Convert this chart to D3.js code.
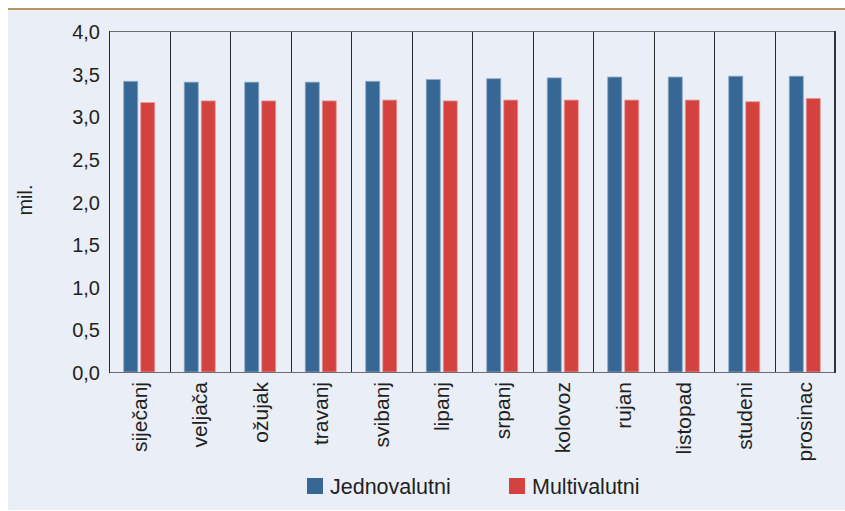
<!DOCTYPE html>
<html>
<head>
<meta charset="utf-8">
<script src="https://cdn.jsdelivr.net/npm/d3@7"></script>
<style>
  body { margin: 0; background: #fff; }
  text { font-family: "Liberation Sans", Arial, sans-serif; fill: #231f20; }
</style>
</head>
<body>
<div id="chart"></div>
<script>
var months = ["siječanj", "veljača", "ožujak", "travanj", "svibanj", "lipanj",
              "srpanj", "kolovoz", "rujan", "listopad", "studeni", "prosinac"];
var jednovalutni = [3.41, 3.40, 3.40, 3.40, 3.41, 3.43, 3.44, 3.45, 3.46, 3.46, 3.47, 3.47];
var multivalutni = [3.16, 3.18, 3.18, 3.18, 3.19, 3.18, 3.19, 3.19, 3.19, 3.19, 3.17, 3.21];
var yTicks = [0, 0.5, 1, 1.5, 2, 2.5, 3, 3.5, 4];
var seriesNames = ["Jednovalutni", "Multivalutni"];
var colors = ["#376795", "#d4423f"];
var edgeColors = ["#8aa8c6", "#e99b98"];

var W = 845, H = 511;
var margin = { top: 31, right: 10, bottom: 139, left: 109 },
    width = 835 - margin.left,
    height = 372 - margin.top;

var svg = d3.select("#chart").append("svg")
    .attr("width", W)
    .attr("height", H);

// background panel and top rule
svg.append("rect").attr("x", 8).attr("y", 9).attr("width", W - 8).attr("height", 501).attr("fill", "#e9eef7");
svg.append("rect").attr("x", 8).attr("y", 8).attr("width", W - 8).attr("height", 2).attr("fill", "#b5965e");

var g = svg.append("g").attr("transform", "translate(" + margin.left + "," + margin.top + ")");

var x = d3.scaleBand().domain(months).range([0, width]);
var y = d3.scaleLinear().domain([0, 4]).range([height, 0]);

// month separators
g.selectAll("line.sep")
    .data(months.slice(1))
    .enter().append("line")
    .attr("class", "sep")
    .attr("x1", function(d) { return Math.round(x(d)) + 0.5; })
    .attr("x2", function(d) { return Math.round(x(d)) + 0.5; })
    .attr("y1", 0)
    .attr("y2", height)
    .attr("stroke", "#2a2a2a")
    .attr("stroke-width", 1);

// bars
var barW = 14, gap = 3;
var offset = (x.bandwidth() - 2 * barW - gap) / 2;
[jednovalutni, multivalutni].forEach(function(vals, s) {
    g.selectAll("rect.s" + s)
        .data(vals)
        .enter().append("rect")
        .attr("class", "s" + s)
        .attr("x", function(d, i) { return x(months[i]) + offset + s * (barW + gap); })
        .attr("y", function(d) { return y(d); })
        .attr("width", barW)
        .attr("height", function(d) { return height - y(d); })
        .attr("fill", colors[s])
        .attr("stroke", edgeColors[s])
        .attr("stroke-width", 0.8);
});

// frame
g.append("line").attr("x1", 0).attr("x2", width).attr("y1", 0.5).attr("y2", 0.5).attr("stroke", "#6d6d6d");
g.append("line").attr("x1", 0).attr("x2", width).attr("y1", height + 0.5).attr("y2", height + 0.5).attr("stroke", "#6d6d6d");
g.append("line").attr("x1", 0.5).attr("x2", 0.5).attr("y1", 0).attr("y2", height + 1).attr("stroke", "#2a2a2a");
g.append("line").attr("x1", width).attr("x2", width).attr("y1", 0).attr("y2", height + 1).attr("stroke", "#333").attr("stroke-width", 2);

// y axis
var yAxis = d3.axisLeft(y)
    .tickValues(yTicks)
    .tickSize(0)
    .tickPadding(9)
    .tickFormat(function(d) { return d3.format(".1f")(d).replace(".", ","); });
g.append("g").call(yAxis)
    .call(function(a) { a.select(".domain").remove(); })
    .selectAll("text")
    .attr("font-size", 20)
    .attr("font-family", "Liberation Sans, Arial, sans-serif")
    .attr("fill", "#231f20")
    .attr("dy", "0.38em");

// x axis labels
var xAxis = d3.axisBottom(x).tickSize(0).tickPadding(0);
g.append("g").attr("transform", "translate(0," + height + ")").call(xAxis)
    .call(function(a) { a.select(".domain").remove(); })
    .selectAll("text")
    .attr("font-size", 21)
    .attr("font-family", "Liberation Sans, Arial, sans-serif")
    .attr("fill", "#231f20")
    .attr("text-anchor", "end")
    .attr("transform", "rotate(-90)")
    .attr("x", -10)
    .attr("y", 0)
    .attr("dy", "0.35em");

// y label
svg.append("text")
    .attr("transform", "translate(32,200) rotate(-90)")
    .attr("text-anchor", "middle")
    .attr("font-size", 20)
    .text("mil.");

// legend
var legendX = [307, 509];
var legend = svg.selectAll("g.legend")
    .data(seriesNames)
    .enter().append("g")
    .attr("class", "legend")
    .attr("transform", function(d, i) { return "translate(" + legendX[i] + ",478)"; });
legend.append("rect")
    .attr("width", 16)
    .attr("height", 16)
    .attr("fill", function(d, i) { return colors[i]; });
legend.append("text")
    .attr("x", 23)
    .attr("y", 16)
    .attr("font-size", 21.5)
    .text(function(d) { return d; });
</script>
</body>
</html>
